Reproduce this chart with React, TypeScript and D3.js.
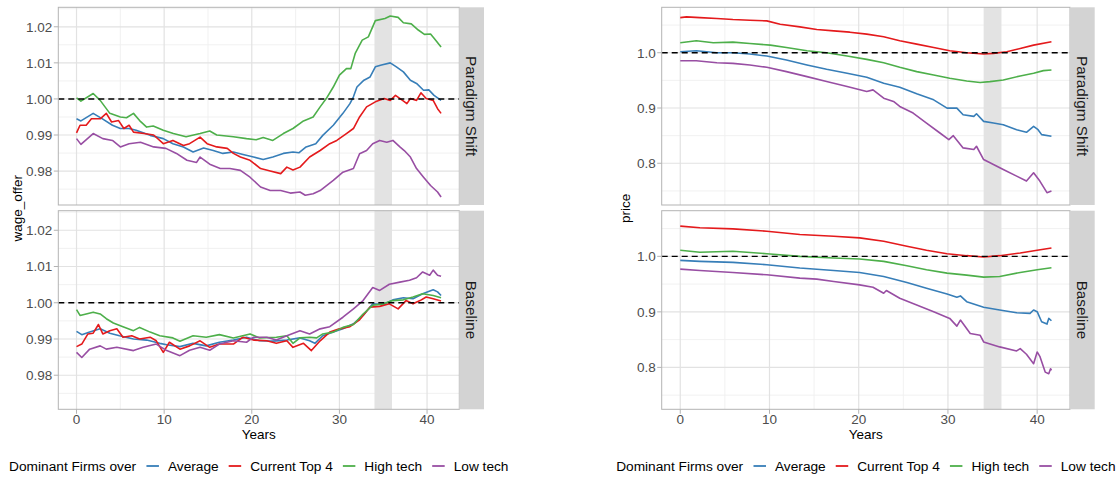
import { useEffect, useRef } from 'react';
import * as React from 'react';
import * as d3 from 'd3';

type Pt = [number, number];

const seriesNames = ['Average', 'Current Top 4', 'High tech', 'Low tech'];
const seriesColors = ['#377EB8', '#E41A1C', '#4DAF4A', '#984EA3'];
const facetNames = ['Paradigm Shift', 'Baseline'];
const legendTitle = 'Dominant Firms over';
const yearTicks = [0, 10, 20, 30, 40];
const wageTicks = [0.98, 0.99, 1.0, 1.01, 1.02];
const priceTicks = [0.8, 0.9, 1.0];
const highlightYears: Pt = [34, 36];

// wage_offer, Paradigm Shift
const wageShiftAvg: Pt[] = [[0,0.9945],[0.5,0.9939],[1.9,0.996],[3,0.9944],[4.1,0.9927],[5,0.9918],[6,0.9918],[6.8,0.9913],[8.4,0.9899],[9.9,0.989],[11,0.9876],[12.2,0.9867],[13.3,0.9853],[14.5,0.9864],[15.6,0.9857],[16.7,0.9849],[17.9,0.9853],[19,0.9846],[20.2,0.9839],[21.3,0.9832],[22.4,0.9839],[23.6,0.9849],[24.7,0.9853],[25.4,0.9851],[26.2,0.9867],[27.3,0.9876],[28.1,0.9899],[29.3,0.9927],[30.4,0.996],[31.2,0.9987],[31.6,1.0006],[32,1.0033],[32.8,1.0052],[33.5,1.0061],[34.1,1.0089],[34.8,1.0094],[35.8,1.01],[36.5,1.0089],[37.3,1.0075],[38.1,1.0052],[38.8,1.0043],[39.6,1.0024],[40.2,1.0025],[40.8,1.001],[41.6,0.9996]];
const wageShiftTop4: Pt[] = [[0,0.9906],[0.4,0.9927],[1.1,0.9927],[1.7,0.9945],[2.7,0.9945],[3.4,0.996],[4,0.9936],[4.8,0.994],[5.4,0.9918],[6,0.9927],[6.5,0.9908],[7.7,0.9904],[8.8,0.99],[9.9,0.9876],[11,0.9885],[12.2,0.9871],[12.9,0.9876],[14.1,0.9894],[14.9,0.9876],[16,0.9867],[17.2,0.9863],[17.9,0.9849],[18.7,0.9839],[19.8,0.983],[21,0.9807],[22.1,0.98],[23.3,0.9793],[24,0.9811],[24.7,0.9803],[25.5,0.9811],[26.6,0.9839],[27.8,0.9857],[28.9,0.9876],[29.7,0.9885],[30.8,0.9904],[31.6,0.9918],[32.3,0.995],[33.1,0.9978],[34.1,0.9992],[35.1,1.0001],[35.8,0.9996],[36.4,1.001],[37.2,0.9996],[37.7,0.9987],[38.1,1.0001],[38.8,0.9996],[39.3,1.0017],[39.9,1.0001],[40.7,0.9996],[41.2,0.9973],[41.6,0.996]];
const wageShiftHigh: Pt[] = [[0,1.0003],[0.5,0.9994],[1.9,1.0015],[2.7,0.9996],[3.8,0.996],[5,0.995],[5.7,0.9948],[6.5,0.996],[7.2,0.994],[8,0.9922],[8.75,0.9925],[9.9,0.9913],[11.05,0.9904],[12.5,0.9895],[14.1,0.9904],[15.2,0.9911],[16,0.99],[17.9,0.9895],[19.4,0.989],[20.5,0.9887],[21.3,0.9893],[22.4,0.9885],[23.6,0.9904],[24.7,0.9918],[25.9,0.9939],[27,0.995],[27.8,0.9978],[28.5,1.0001],[29.3,1.0033],[30,1.0066],[30.8,1.0084],[31.3,1.0084],[31.8,1.0126],[32.6,1.0163],[33.3,1.0172],[34.1,1.0217],[35.2,1.0223],[35.8,1.023],[36.7,1.0226],[37.3,1.0211],[38.2,1.0208],[39,1.0191],[39.7,1.0179],[40.4,1.018],[40.8,1.0168],[41.6,1.0144]];
const wageShiftLow: Pt[] = [[0,0.989],[0.5,0.9874],[1.9,0.9904],[3,0.989],[4.1,0.9885],[5,0.9867],[6,0.9876],[7.3,0.988],[8.8,0.9867],[10.2,0.9863],[11.4,0.9849],[12.6,0.983],[13.7,0.9824],[14.1,0.9839],[15.2,0.9819],[16.4,0.9807],[17.5,0.9807],[18.7,0.9802],[19.8,0.9783],[21,0.9756],[22.1,0.9746],[23.3,0.9746],[24.4,0.9739],[25.5,0.9742],[26.1,0.9733],[27,0.9737],[27.8,0.9746],[29.3,0.9774],[30.4,0.9797],[31.6,0.9807],[32.3,0.9848],[33.1,0.9857],[33.8,0.9876],[34.6,0.9885],[35.4,0.988],[36.1,0.9885],[36.9,0.9867],[37.4,0.9857],[38.1,0.9839],[38.8,0.9807],[39.6,0.9783],[40.4,0.976],[41.2,0.9742],[41.6,0.9728]];

// wage_offer, Baseline
const wageBaseAvg: Pt[] = [[0,0.9921],[0.6,0.9912],[1.5,0.9919],[2.7,0.9928],[3.8,0.9916],[4.9,0.9909],[6.5,0.99],[8,0.9897],[9.5,0.9888],[10.3,0.9884],[11.8,0.9879],[13.3,0.9888],[14.8,0.9881],[16.3,0.9891],[17.9,0.9897],[19.4,0.9905],[20.9,0.9895],[22.4,0.9894],[24,0.9897],[25.5,0.9903],[26.6,0.9895],[27.2,0.9888],[28.1,0.9909],[29.3,0.9919],[30.4,0.9928],[31.6,0.9942],[32.7,0.9965],[33.8,0.9997],[35,0.9995],[36.1,1.0008],[37.3,1.0014],[38.4,1.0011],[39.5,1.0025],[40.7,1.0036],[41.2,1.003],[41.6,1.002]];
const wageBaseTop4: Pt[] = [[0,0.9879],[0.6,0.9886],[1.3,0.9914],[1.9,0.9916],[2.5,0.994],[3,0.9914],[3.8,0.9923],[4.6,0.9928],[5.3,0.9905],[6.3,0.9909],[7.2,0.99],[8.4,0.9905],[9.1,0.9895],[9.9,0.9863],[10.6,0.9891],[11.8,0.9872],[12.9,0.9881],[14.1,0.9895],[15.2,0.9877],[16.3,0.9886],[17.9,0.9886],[19,0.9905],[20.2,0.9897],[21.7,0.9895],[22.8,0.9888],[24,0.9895],[24.7,0.9877],[25.9,0.9888],[26.8,0.9868],[27.8,0.9895],[28.9,0.9919],[30,0.9928],[31.2,0.9934],[32.3,0.9953],[33.5,0.9988],[34.6,0.999],[35.7,0.9997],[36.7,0.9983],[37.6,1.0006],[38.4,0.9997],[39.2,1.0006],[39.9,1.0016],[40.7,1.0011],[41.6,1.0005]];
const wageBaseHigh: Pt[] = [[0,0.9981],[0.4,0.9965],[1.1,0.9969],[1.9,0.9974],[2.7,0.9969],[3.4,0.9956],[4.2,0.9944],[5.3,0.9934],[6.5,0.9923],[7.2,0.9932],[8.4,0.9919],[9.5,0.9909],[11,0.9903],[11.8,0.9894],[13.3,0.9909],[14.8,0.9905],[16.3,0.9912],[17.9,0.9903],[19.8,0.9914],[20.9,0.9903],[22.8,0.9905],[24,0.9909],[24.7,0.9888],[25.5,0.9903],[26.6,0.9905],[27.4,0.9903],[28.1,0.9914],[29.3,0.9919],[30.4,0.9932],[31.6,0.994],[32.7,0.9969],[33.8,0.9993],[35,0.9997],[36.1,1.0006],[37.3,1.0008],[38.4,1.0016],[39.5,1.0025],[40.7,1.002],[41.6,1.0014]];
const wageBaseLow: Pt[] = [[0,0.9863],[0.6,0.9849],[1.5,0.9872],[2.7,0.9881],[3.4,0.9872],[4.6,0.9877],[6.5,0.9868],[7.6,0.9877],[9.1,0.9886],[10.3,0.9868],[11.8,0.9854],[12.9,0.9869],[14.1,0.9877],[15.2,0.9869],[16.3,0.9886],[17.9,0.9895],[19.4,0.9891],[20.2,0.9905],[21.7,0.9905],[22.8,0.9897],[24,0.9909],[25.5,0.9923],[26.6,0.9914],[27.8,0.9928],[28.9,0.9934],[30.4,0.996],[31.6,0.9983],[32.7,1.0006],[33.8,1.0042],[34.6,1.0034],[35.7,1.0051],[36.9,1.0057],[38,1.0062],[38.8,1.0069],[39.5,1.0085],[40.3,1.0076],[40.7,1.009],[41.2,1.0076],[41.6,1.0073]];

// price, Paradigm Shift
const priceShiftAvg: Pt[] = [[0,1.0018],[1.8,1.0036],[4.1,1.0],[5.9,1.0],[7.8,0.9976],[9.7,0.994],[11.9,0.9868],[14.2,0.9778],[16.4,0.97],[18.7,0.9628],[20.9,0.9556],[22.8,0.9448],[24.6,0.9376],[26.5,0.9256],[28.4,0.9148],[29.9,0.8998],[31,0.8998],[31.7,0.8878],[32.9,0.8848],[33.2,0.8896],[34,0.8758],[35.1,0.8728],[36.2,0.8698],[37.7,0.8608],[38.8,0.856],[39.6,0.8668],[40.1,0.8608],[40.5,0.8518],[41.6,0.8488]];
const priceShiftTop4: Pt[] = [[0,1.0636],[0.7,1.0648],[2.2,1.0636],[4.1,1.0618],[5.9,1.06],[7.8,1.0588],[9.7,1.0576],[11.2,1.0516],[13.4,1.0468],[15.3,1.042],[17.2,1.0396],[19,1.0372],[20.9,1.0336],[22.8,1.0288],[24.6,1.0216],[26.5,1.0156],[28.4,1.0096],[30.2,1.0036],[32.1,1.0],[34,0.9976],[35.1,0.9988],[36.6,1.0018],[38.1,1.0078],[39.6,1.0138],[41.6,1.0198]];
const priceShiftHigh: Pt[] = [[0,1.018],[1.8,1.0216],[3.7,1.018],[5.9,1.0192],[7.8,1.0168],[10.1,1.0138],[11.9,1.0096],[14.2,1.0036],[16.4,1.0],[18.7,0.994],[20.9,0.988],[22.8,0.982],[24.6,0.9736],[26.5,0.9658],[28.4,0.9598],[30.2,0.9538],[32.1,0.949],[33.6,0.946],[34.7,0.9478],[36.2,0.9508],[38.1,0.958],[39.6,0.9628],[40.7,0.9676],[41.6,0.9688]];
const priceShiftLow: Pt[] = [[0,0.9856],[1.8,0.9856],[4.1,0.982],[5.9,0.9808],[7.8,0.9778],[9.7,0.9736],[11.9,0.9658],[14.2,0.9568],[16.4,0.9478],[18.7,0.9388],[20.9,0.9298],[21.6,0.9328],[22.8,0.9178],[23.9,0.9118],[24.6,0.9028],[26.1,0.8908],[27.6,0.8728],[29.1,0.8548],[30.1,0.8428],[30.6,0.85],[31.7,0.8278],[32.9,0.8248],[33.2,0.8308],[34,0.8068],[35.1,0.7978],[36.2,0.7888],[37.7,0.7768],[38.8,0.7678],[39.6,0.7828],[40.3,0.7678],[41.1,0.7468],[41.6,0.7498]];

// price, Baseline
const priceBaseAvg: Pt[] = [[0,0.9927],[2.2,0.9909],[5.9,0.9891],[9.7,0.9849],[13.4,0.9789],[17.2,0.9746],[20.1,0.971],[22.8,0.9637],[25.4,0.9529],[27.6,0.9426],[29.9,0.9323],[31,0.9263],[31.4,0.9287],[32.1,0.9184],[34,0.9082],[35.8,0.9033],[37.7,0.8985],[39.2,0.8973],[39.6,0.9033],[40,0.9003],[40.5,0.8822],[41.1,0.878],[41.3,0.8882],[41.6,0.884]];
const priceBaseTop4: Pt[] = [[0,1.0544],[2.2,1.0514],[5.9,1.0495],[9.7,1.0453],[13.4,1.0393],[17.2,1.0363],[20.1,1.0332],[22.8,1.0272],[25.4,1.0181],[27.6,1.0109],[29.9,1.0048],[32.1,1.0012],[34,0.9988],[35.8,1.0012],[38.1,1.006],[40,1.0109],[41.6,1.0151]];
const priceBaseHigh: Pt[] = [[0,1.0109],[2.2,1.0073],[5.9,1.0091],[9.7,1.0048],[13.4,1.0],[17.2,0.997],[20.1,0.9952],[22.8,0.9909],[25.4,0.9831],[27.6,0.9758],[29.9,0.9698],[32.1,0.9662],[34,0.9625],[35.8,0.9637],[38.1,0.971],[40,0.9758],[41.6,0.9795]];
const priceBaseLow: Pt[] = [[0,0.977],[2.2,0.9746],[5.9,0.971],[9.7,0.9668],[13.4,0.9607],[15.3,0.9589],[17.2,0.9547],[20.1,0.9486],[21.6,0.9444],[22.8,0.9335],[23.1,0.9384],[24.6,0.9245],[26.5,0.9124],[28.4,0.9003],[30.2,0.8882],[31,0.8743],[31.4,0.8852],[32.5,0.861],[33.6,0.858],[34,0.8459],[35.8,0.8369],[37.7,0.8296],[38.1,0.8338],[38.8,0.8236],[39.6,0.8066],[40,0.8278],[40.3,0.8199],[40.9,0.7915],[41.3,0.7885],[41.5,0.7976],[41.6,0.7946]];

const FONT = '"Liberation Sans", Arial, Helvetica, sans-serif';
const FS = 13.5;

interface ChartCfg {
    x0: number; x1: number; stripW: number;
    title: string; titleX: number;
    yDomain: [number, number]; ticks: number[]; fmt: (n: number) => string;
    panels: Pt[][][];
}

const charts: ChartCfg[] = [
    {
        x0: 58.3, x1: 459.3, stripW: 24.7, title: 'wage_offer', titleX: 22.3,
        yDomain: [0.9706, 1.0254], ticks: wageTicks, fmt: d3.format('.2f'),
        panels: [
            [wageShiftAvg, wageShiftTop4, wageShiftHigh, wageShiftLow],
            [wageBaseAvg, wageBaseTop4, wageBaseHigh, wageBaseLow],
        ],
    },
    {
        x0: 661.7, x1: 1070, stripW: 24.7, title: 'price', titleX: 630.3,
        yDomain: [0.7245, 1.0822], ticks: priceTicks, fmt: d3.format('.1f'),
        panels: [
            [priceShiftAvg, priceShiftTop4, priceShiftHigh, priceShiftLow],
            [priceBaseAvg, priceBaseTop4, priceBaseHigh, priceBaseLow],
        ],
    },
];

const panelRows: Pt[] = [[7.3, 205], [210.7, 409.3]];

// minor breaks half way between major ones
const minorOf = (ticks: number[], lo: number, hi: number) => {
    const step = ticks[1] - ticks[0];
    return [ticks[0] - step / 2, ...ticks.map(t => t + step / 2)].filter(v => v > lo && v < hi);
};

const drawChart = (svg: d3.Selection<SVGSVGElement, unknown, null, undefined>, c: ChartCfg) => {
    const x = d3.scaleLinear().domain([-2.08, 43.68]).range([c.x0, c.x1]);
    const xMinor = minorOf(yearTicks, -2.08, 43.68);
    const yMinor = minorOf(c.ticks, c.yDomain[0], c.yDomain[1]);

    panelRows.forEach(([top, bottom], fi) => {
        const y = d3.scaleLinear().domain(c.yDomain).range([bottom, top]);
        const g = svg.append('g');

        // grid
        g.selectAll('.ymin').data(yMinor).enter().append('line')
            .attr('x1', c.x0).attr('x2', c.x1).attr('y1', d => y(d)).attr('y2', d => y(d))
            .attr('stroke', '#efefef').attr('stroke-width', 0.9);
        g.selectAll('.xmin').data(xMinor).enter().append('line')
            .attr('x1', d => x(d)).attr('x2', d => x(d)).attr('y1', top).attr('y2', bottom)
            .attr('stroke', '#efefef').attr('stroke-width', 0.9);
        g.selectAll('.ymaj').data(c.ticks).enter().append('line')
            .attr('x1', c.x0).attr('x2', c.x1).attr('y1', d => y(d)).attr('y2', d => y(d))
            .attr('stroke', '#e2e2e2').attr('stroke-width', 1.2);
        g.selectAll('.xmaj').data(yearTicks).enter().append('line')
            .attr('x1', d => x(d)).attr('x2', d => x(d)).attr('y1', top).attr('y2', bottom)
            .attr('stroke', '#e2e2e2').attr('stroke-width', 1.2);

        // highlighted years
        g.append('rect')
            .attr('x', x(highlightYears[0])).attr('width', x(highlightYears[1]) - x(highlightYears[0]))
            .attr('y', top).attr('height', bottom - top)
            .attr('fill', '#e3e3e3');

        // series
        const line = d3.line<Pt>().x(d => x(d[0])).y(d => y(d[1]));
        c.panels[fi].forEach((s, si) => {
            g.append('path').datum(s)
                .attr('d', line)
                .attr('fill', 'none')
                .attr('stroke', seriesColors[si])
                .attr('stroke-width', 1.6)
                .attr('stroke-linejoin', 'round');
        });

        // reference line at 1
        g.append('line')
            .attr('x1', c.x0).attr('x2', c.x1).attr('y1', y(1)).attr('y2', y(1))
            .attr('stroke', '#000').attr('stroke-width', 1.4).attr('stroke-dasharray', '6,4');

        // border
        g.append('rect')
            .attr('x', c.x0).attr('y', top).attr('width', c.x1 - c.x0).attr('height', bottom - top)
            .attr('fill', 'none').attr('stroke', '#b3b3b3').attr('stroke-width', 1);

        // strip
        g.append('rect')
            .attr('x', c.x1).attr('y', top).attr('width', c.stripW).attr('height', bottom - top)
            .attr('fill', '#d3d3d3');
        g.append('text')
            .attr('transform', `translate(${c.x1 + c.stripW / 2},${(top + bottom) / 2}) rotate(90)`)
            .attr('text-anchor', 'middle').attr('dy', '0.36em')
            .attr('font-family', FONT).attr('font-size', 15.3).attr('fill', '#1a1a1a')
            .text(facetNames[fi]);

        // y axis
        g.selectAll('.ytick').data(c.ticks).enter().append('line')
            .attr('x1', c.x0 - 4.5).attr('x2', c.x0).attr('y1', d => y(d)).attr('y2', d => y(d))
            .attr('stroke', '#b3b3b3').attr('stroke-width', 1);
        g.selectAll('.ylab').data(c.ticks).enter().append('text')
            .attr('x', c.x0 - 6).attr('y', d => y(d)).attr('dy', '0.36em')
            .attr('text-anchor', 'end')
            .attr('font-family', FONT).attr('font-size', FS).attr('fill', '#4d4d4d')
            .text(d => c.fmt(d));
    });

    // x axis under the bottom panel
    const bottom = panelRows[1][1];
    const xa = svg.append('g');
    xa.selectAll('line').data(yearTicks).enter().append('line')
        .attr('x1', d => x(d)).attr('x2', d => x(d)).attr('y1', bottom).attr('y2', bottom + 4.5)
        .attr('stroke', '#b3b3b3').attr('stroke-width', 1);
    xa.selectAll('text').data(yearTicks).enter().append('text')
        .attr('x', d => x(d)).attr('y', bottom + 15)
        .attr('text-anchor', 'middle')
        .attr('font-family', FONT).attr('font-size', FS).attr('fill', '#4d4d4d')
        .text(d => String(d));

    const cx = (c.x0 + c.x1) / 2;
    svg.append('text')
        .attr('x', cx).attr('y', 439)
        .attr('text-anchor', 'middle')
        .attr('font-family', FONT).attr('font-size', FS).attr('fill', '#000')
        .text('Years');

    svg.append('text')
        .attr('transform', `translate(${c.titleX},${(panelRows[0][0] + panelRows[1][1]) / 2}) rotate(-90)`)
        .attr('text-anchor', 'middle')
        .attr('font-family', FONT).attr('font-size', FS).attr('fill', '#000')
        .text(c.title);

    // legend, centred under the panel
    const lfs = 13.7;
    const lg = svg.append('g');
    const ly = 471;
    let cur = 0;
    const title = lg.append('text').attr('x', cur).attr('y', ly)
        .attr('font-family', FONT).attr('font-size', lfs).attr('fill', '#000')
        .text(legendTitle);
    cur += (title.node() as SVGTextElement).getComputedTextLength() + 10.3;
    seriesNames.forEach((name, i) => {
        lg.append('line')
            .attr('x1', cur).attr('x2', cur + 12.5).attr('y1', ly - 5).attr('y2', ly - 5)
            .attr('stroke', seriesColors[i]).attr('stroke-width', 1.8);
        cur += 12.5 + 9;
        const t = lg.append('text').attr('x', cur).attr('y', ly)
            .attr('font-family', FONT).attr('font-size', lfs).attr('fill', '#000')
            .text(name);
        cur += (t.node() as SVGTextElement).getComputedTextLength() + 10;
    });
    const total = cur - 10;
    lg.attr('transform', `translate(${cx - total / 2},0)`);
};

const App: React.FC = () => {
    const ref = useRef<SVGSVGElement>(null);

    useEffect(() => {
        const svg = d3.select(ref.current as SVGSVGElement);
        svg.selectAll('*').remove();
        charts.forEach(c => drawChart(svg, c));
    }, []);

    return (
        <svg
            ref={ref}
            width={1119}
            height={477}
            style={{ position: 'absolute', left: 0, top: 0, background: '#fff' }}
        />
    );
};

export default App;
